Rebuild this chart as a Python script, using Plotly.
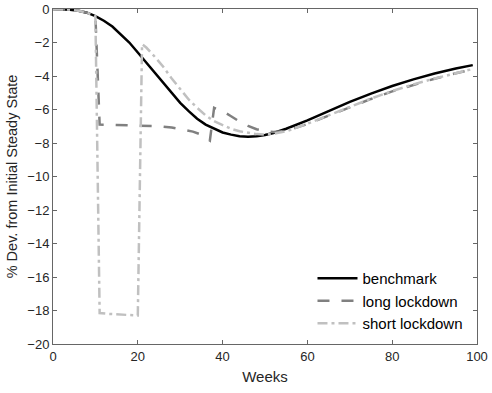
import plotly.graph_objects as go

# ---- data ----
bench_weeks = [0, 2, 4, 6, 8, 10, 12, 14, 16, 18, 20, 22, 24, 26, 28, 30, 32, 34, 36, 38,
               40, 42, 44, 46, 48, 50, 52, 55, 60, 65, 70, 75, 80, 85, 90, 95, 99]
bench_vals = [0, -0.01, -0.04, -0.1, -0.22, -0.42, -0.7, -1.05, -1.5, -2.0, -2.6, -3.2,
              -3.85, -4.45, -5.05, -5.6, -6.1, -6.55, -6.9, -7.15, -7.37, -7.5, -7.6, -7.63,
              -7.6, -7.52, -7.4, -7.15, -6.65, -6.1, -5.55, -5.05, -4.6, -4.2, -3.85,
              -3.55, -3.35]

long_weeks = [0, 2, 4, 6, 8, 10, 11, 15, 20, 25, 28, 31, 33, 35, 36, 37, 38, 40, 42, 44,
              46, 48, 50, 52, 55, 60, 65, 70, 75, 80, 85, 90, 95, 99]
long_vals = [0, -0.01, -0.04, -0.1, -0.22, -0.42, -6.9, -6.92, -6.95, -7.0, -7.08, -7.2,
             -7.32, -7.5, -7.65, -7.85, -5.9, -6.1, -6.4, -6.72, -6.98, -7.18, -7.3,
             -7.35, -7.28, -6.87, -6.37, -5.87, -5.37, -4.92, -4.52, -4.16, -3.84, -3.6]

short_weeks = [0, 2, 4, 6, 8, 10, 11, 13, 15, 17, 19, 20, 21, 22, 24, 26, 28, 30, 32, 34,
               36, 38, 40, 42, 44, 46, 48, 50, 52, 55, 60, 65, 70, 75, 80, 85, 90, 95, 99]
short_vals = [0, -0.01, -0.04, -0.1, -0.22, -0.42, -18.15, -18.2, -18.22, -18.25, -18.28,
              -18.3, -2.1, -2.3, -2.85, -3.45, -4.15, -4.8, -5.4, -5.9, -6.35, -6.7, -6.95,
              -7.15, -7.3, -7.4, -7.47, -7.5, -7.45, -7.3, -6.85, -6.35, -5.85, -5.35,
              -4.9, -4.5, -4.15, -3.82, -3.58]

x_ticks = [0, 20, 40, 60, 80, 100]
y_ticks = [0, -2, -4, -6, -8, -10, -12, -14, -16, -18, -20]

FONT = "Liberation Sans, Arial, Helvetica, sans-serif"

fig = go.Figure()
fig.add_trace(go.Scatter(x=bench_weeks, y=bench_vals, mode="lines", name="benchmark",
                         line=dict(color="#000000", width=2.5)))
fig.add_trace(go.Scatter(x=long_weeks, y=long_vals, mode="lines", name="long lockdown",
                         line=dict(color="#808080", width=2.5, dash="12px,12px")))
fig.add_trace(go.Scatter(x=short_weeks, y=short_vals, mode="lines", name="short lockdown",
                         line=dict(color="#c0c0c0", width=2.5, dash="10px,4px,3px,4px")))

axis_common = dict(showline=True, linecolor="#666666", linewidth=1, mirror="ticks",
                   ticks="inside", ticklen=4, tickcolor="#666666", showgrid=False,
                   zeroline=False, automargin=False,
                   tickfont=dict(family=FONT, size=13, color="#262626"))

def fmt(v):
    return str(v).replace("-", "\u2212") if v < 0 else str(v)

fig.update_layout(
    width=492, height=393,
    margin=dict(l=53, r=15, t=9, b=49),
    paper_bgcolor="white", plot_bgcolor="white",
    font=dict(family=FONT, color="#262626"),
    showlegend=True,
    legend=dict(x=0.612, y=0.012, xanchor="left", yanchor="bottom",
                bgcolor="rgba(0,0,0,0)", borderwidth=0, itemwidth=40,
                font=dict(family=FONT, size=15, color="#000000"),
                tracegroupgap=0),
    xaxis=dict(range=[0, 100], tickvals=x_ticks, ticktext=[fmt(v) for v in x_ticks],
               title=dict(text="Weeks", font=dict(family=FONT, size=15, color="#262626"),
                          standoff=8),
               **axis_common),
    yaxis=dict(range=[-20, 0], tickvals=y_ticks, ticktext=[fmt(v) for v in y_ticks],
               title=dict(text="% Dev. from Initial Steady State",
                          font=dict(family=FONT, size=14.5, color="#262626"), standoff=6),
               **axis_common),
)

fig.write_html("out.html")
